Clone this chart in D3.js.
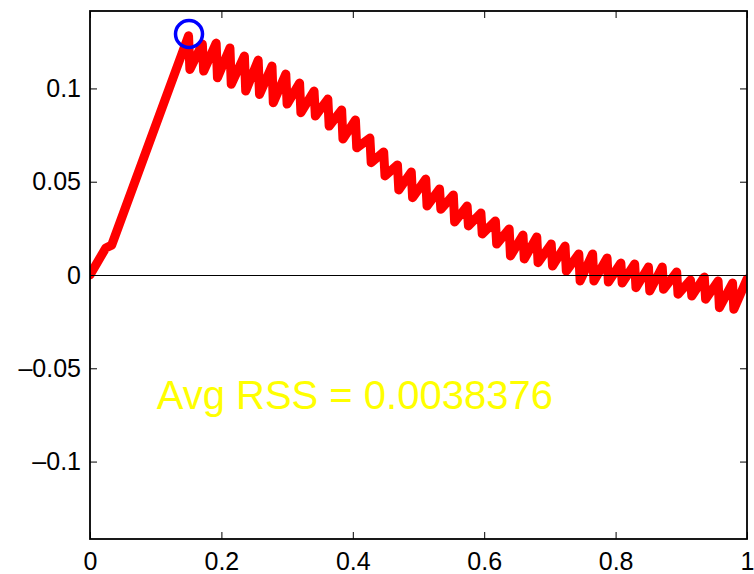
<!DOCTYPE html>
<html>
<head>
<meta charset="utf-8">
<script src="https://cdn.jsdelivr.net/npm/d3@7"></script>
<style>
  html, body { margin: 0; padding: 0; background: #fff; }
  svg { display: block; }
  text { font-family: "Liberation Sans", Arial, Helvetica, sans-serif; }
</style>
</head>
<body>
<svg id="chart" width="754" height="574"></svg>
<script>
// ---- data ----
const riseX = [0, 0.024, 0.033];
const riseY = [0, 0.0145, 0.016];

const peakX = [0.150, 0.171, 0.192, 0.213, 0.235, 0.256, 0.277, 0.298, 0.319, 0.341,
               0.362, 0.383, 0.404, 0.426, 0.447, 0.468, 0.489, 0.511, 0.532, 0.553,
               0.574, 0.595, 0.617, 0.638, 0.659, 0.680, 0.702, 0.723, 0.744, 0.765,
               0.787, 0.808, 0.829, 0.850, 0.871, 0.893, 0.914, 0.935, 0.956, 0.978];
const peakY = [0.1282, 0.1238, 0.1243, 0.1217, 0.1174, 0.1152, 0.1120, 0.1077, 0.1029, 0.0986,
               0.0943, 0.0884, 0.0831, 0.0734, 0.0659, 0.0590, 0.0552, 0.0514, 0.0461, 0.0429,
               0.0370, 0.0332, 0.0289, 0.0247, 0.0214, 0.0204, 0.0166, 0.0155, 0.0113, 0.0113,
               0.0091, 0.0064, 0.0059, 0.0043, 0.0043, 0.0016, -0.0027, -0.0011, -0.0032, -0.0043];
const troughX = [0.152, 0.173, 0.194, 0.215, 0.237, 0.258, 0.279, 0.300, 0.321, 0.343,
                 0.364, 0.385, 0.406, 0.428, 0.449, 0.470, 0.491, 0.513, 0.534, 0.555,
                 0.576, 0.597, 0.619, 0.640, 0.661, 0.682, 0.704, 0.725, 0.746, 0.767,
                 0.789, 0.810, 0.831, 0.852, 0.873, 0.895, 0.916, 0.937, 0.958, 0.980];
const troughY = [0.1102, 0.1093, 0.1057, 0.1022, 0.0986, 0.0968, 0.0923, 0.0916, 0.0870, 0.0852,
                 0.0798, 0.0729, 0.0682, 0.0602, 0.0531, 0.0456, 0.0414, 0.0370, 0.0352, 0.0284,
                 0.0263, 0.0220, 0.0166, 0.0102, 0.0086, 0.0066, 0.0048, 0.0021, -0.0032, -0.0032,
                 -0.0038, -0.0043, -0.0068, -0.0086, -0.0077, -0.0103, -0.0113, -0.0130, -0.0175, -0.0184];
const endX = [1.0];
const endY = [-0.0021];

const markerX = 0.1507, markerY = 0.1292;   // blue circle
const annotation = "Avg RSS = 0.0038376";
const annotX = 0.1015, annotY = -0.0718;

const xTicks = [0, 0.2, 0.4, 0.6, 0.8, 1];
const xTickLabels = ["0", "0.2", "0.4", "0.6", "0.8", "1"];
const yTicks = [-0.1, -0.05, 0, 0.05, 0.1];
const yTickLabels = ["\u20130.1", "\u20130.05", "0", "0.05", "0.1"];
const xDomain = [0, 1];
const yDomain = [-0.1415, 0.1415];

// ---- build series ----
const pts = [];
riseX.forEach((x, i) => pts.push([x, riseY[i]]));
peakX.forEach((x, i) => { pts.push([x, peakY[i]]); pts.push([troughX[i], troughY[i]]); });
endX.forEach((x, i) => pts.push([x, endY[i]]));

// ---- layout ----
const L = 90, R = 747, T = 11, B = 539;
const svg = d3.select("#chart");
const x = d3.scaleLinear().domain(xDomain).range([L, R]);
const y = d3.scaleLinear().domain(yDomain).range([B, T]);

svg.append("defs").append("clipPath").attr("id", "clip")
  .append("rect").attr("x", L).attr("y", T).attr("width", R - L).attr("height", B - T);

const plot = svg.append("g").attr("clip-path", "url(#clip)");

plot.append("path")
  .datum(pts)
  .attr("fill", "none")
  .attr("stroke", "#ff0000")
  .attr("stroke-width", 9)
  .attr("stroke-linejoin", "round")
  .attr("stroke-linecap", "round")
  .attr("d", d3.line().x(d => x(d[0])).y(d => y(d[1])));

// zero line
plot.append("line")
  .attr("x1", x(xDomain[0])).attr("x2", x(xDomain[1]))
  .attr("y1", y(0) + 0.5).attr("y2", y(0) + 0.5)
  .attr("stroke", "#000").attr("stroke-width", 1.2)
  .attr("shape-rendering", "crispEdges");

// marker
plot.append("circle")
  .attr("cx", x(markerX)).attr("cy", y(markerY)).attr("r", 13.5)
  .attr("fill", "none").attr("stroke", "#0000ff").attr("stroke-width", 3.5);

// annotation
svg.append("text")
  .attr("x", x(annotX)).attr("y", y(annotY))
  .attr("fill", "#ffff00")
  .attr("font-size", 40)
  .text(annotation);

// axes
const fmtX = d => xTickLabels[xTicks.indexOf(d)];
const fmtY = d => yTickLabels[yTicks.indexOf(d)];

const gx = svg.append("g").attr("transform", `translate(0,${B})`)
  .call(d3.axisBottom(x).tickValues(xTicks).tickFormat(fmtX).tickSizeInner(-7).tickSizeOuter(0).tickPadding(13));
const gy = svg.append("g").attr("transform", `translate(${L},0)`)
  .call(d3.axisLeft(y).tickValues(yTicks).tickFormat(fmtY).tickSizeInner(-7).tickSizeOuter(0).tickPadding(9));
const gt = svg.append("g").attr("transform", `translate(0,${T})`)
  .call(d3.axisTop(x).tickValues(xTicks).tickFormat("").tickSizeInner(-7).tickSizeOuter(0));
const gr = svg.append("g").attr("transform", `translate(${R},0)`)
  .call(d3.axisRight(y).tickValues(yTicks).tickFormat("").tickSizeInner(-7).tickSizeOuter(0));

[gx, gy, gt, gr].forEach(g => {
  g.select(".domain").remove();
  g.selectAll(".tick line").attr("stroke", "#000").attr("stroke-width", 1);
  g.selectAll(".tick text")
    .attr("fill", "#000")
    .attr("font-size", 25)
    .attr("font-family", "'Liberation Sans', Arial, Helvetica, sans-serif");
});

// box
svg.append("rect")
  .attr("x", L).attr("y", T).attr("width", R - L).attr("height", B - T)
  .attr("fill", "none").attr("stroke", "#000").attr("stroke-width", 1.8);
</script>
</body>
</html>
